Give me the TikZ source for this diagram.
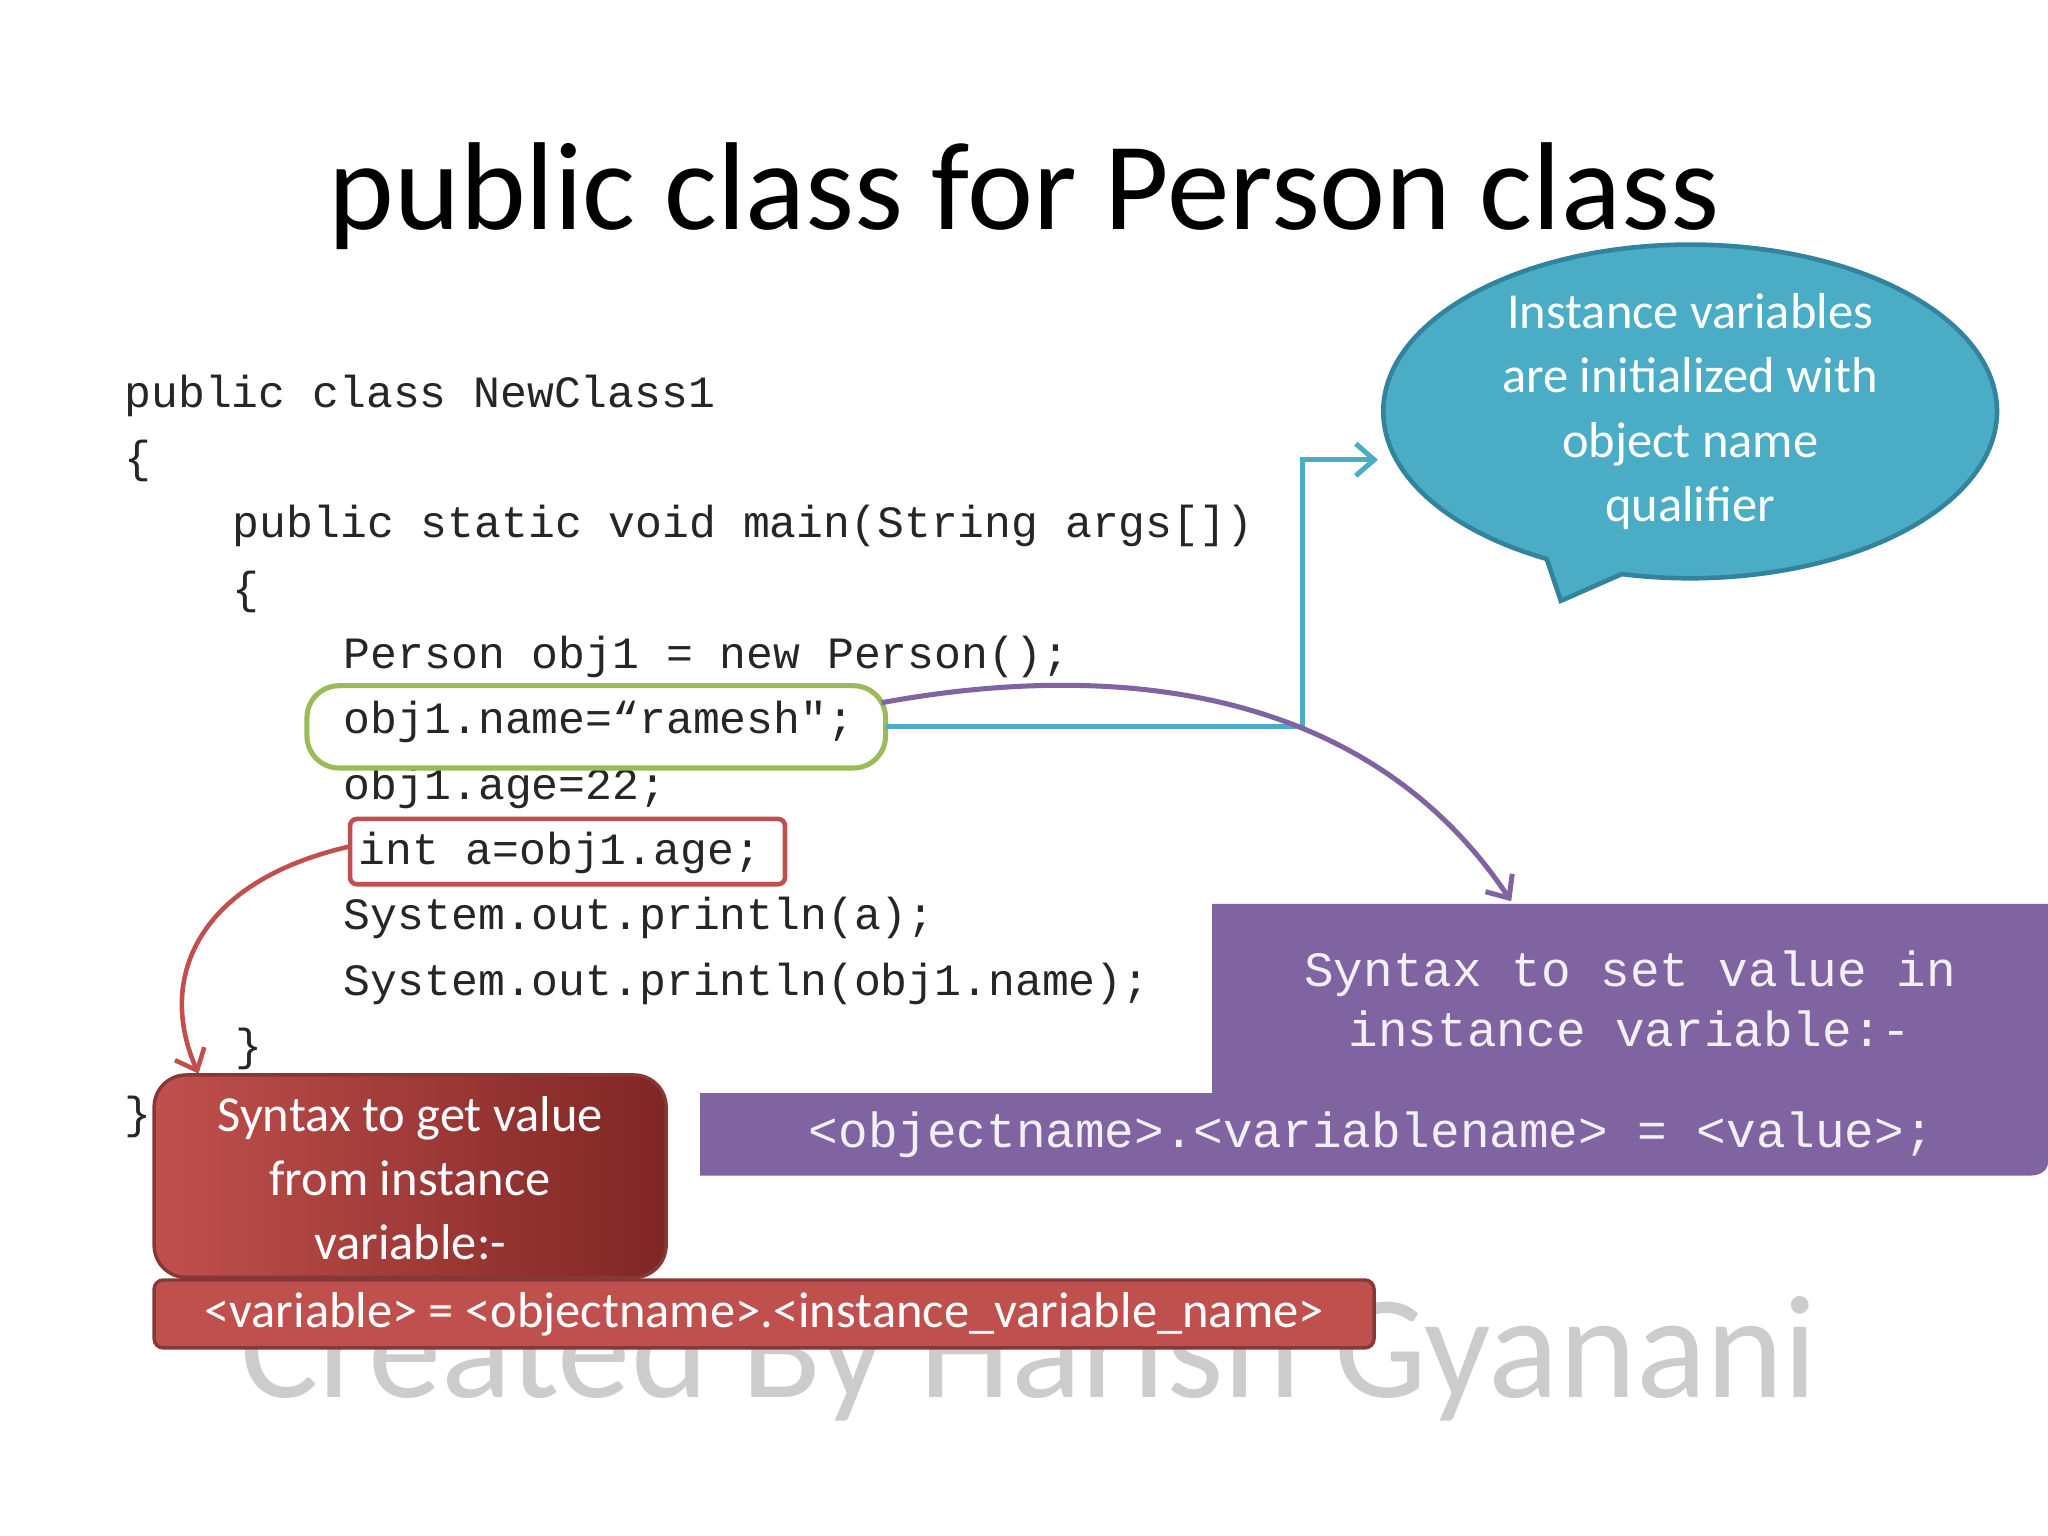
\documentclass[tikz,border=0pt]{standalone}
\usepackage{fontspec}
\setmainfont{Carlito}
\newfontfamily\codefont{Liberation Mono}
\usetikzlibrary{arrows.meta,shapes.callouts}
\definecolor{cblue}{HTML}{4BACC6}
\definecolor{cblued}{HTML}{31849B}
\definecolor{cgreen}{HTML}{9BBB59}
\definecolor{cred}{HTML}{C0504D}
\definecolor{creddk}{HTML}{7F2624}
\definecolor{cpurp}{HTML}{8064A2}
\tikzset{
 code/.style={anchor=west,inner sep=0pt,text=black!85,font=\codefont\fontsize{19.5pt}{22pt}\selectfont},
 ptext/.style={inner sep=0pt,text=white!90!cpurp,font=\codefont\fontsize{21.5pt}{24pt}\selectfont},
 ctext/.style={align=center,text=white,font=\fontsize{22pt}{28pt}\selectfont},
}
\begin{document}
\begin{tikzpicture}[x=0.02cm,y=-0.02cm]
\useasboundingbox (0,0) rectangle (1568,1176);
\fill[white] (0,0) rectangle (1568,1176);
\node[font=\fontsize{54.5pt}{62pt}\selectfont] (title) at (784,150) {public class for Person class};
% watermark
\node[anchor=west,text=black!20,font=\fontsize{64pt}{70pt}\selectfont] (wm) at (178,1040) {Created By Harish Gyanani};
% code
\node[code] (l1) at (95,303) {public class NewClass1};
\node[code] (l2) at (95,353) {\{};
\node[code] (l3) at (178,403) {public static void main(String args[])};
\node[code] (l4) at (178,453) {\{};
\node[code] (l5) at (263,503) {Person obj1 = new Person();};
\node[code] (l6) at (263,553) {obj1.name=“ramesh";};
\node[code] (l7) at (263,603) {obj1.age=22;};
\node[code] (l8) at (274,653) {int a=obj1.age;};
\node[code] (l9) at (263,703) {System.out.println(a);};
\node[code] (l10) at (263,753) {System.out.println(obj1.name);};
\node[code] (l11) at (180,803) {\}};
\node[code] (l12) at (95,855) {\}};
% highlight boxes
\draw[cgreen,line width=2.2pt,rounded corners=14pt] (235,525) rectangle (678,588);
\coordinate (gR) at (678,556);
\coordinate (gRt) at (675,538);
\draw[cred,line width=2pt,rounded corners=3pt] (268,627) rectangle (601,677);
\coordinate (rL) at (268,648);
% callout
\node[ellipse callout,draw=cblued,line width=2pt,fill=cblue,minimum width=9.4cm,minimum height=4.7cm,callout absolute pointer={(1195,460)},ctext,inner sep=0pt] (call) at (1294,315) {Instance variables\\are initialized with\\object name\\qualifier};
% blue connector
\coordinate (bc) at (1055,352);
\draw[cblue,line width=2.2pt,-{Straight Barb[length=8pt,width=14pt]}] (gR) -- (997,556) -- (997,352) -- (bc);
% purple shape
\fill[cpurp] (928,692) -- (1568,692) -- (1568,890) to[out=-90,in=0] (1555,900) -- (536,900) -- (536,837) -- (928,837) -- cycle;
\node[ptext,align=center] (pt1) at (1248,765) {Syntax to set value in\\[2pt]instance variable:-};
\node[ptext] (pt2) at (1050,869) {<objectname>.<variablename> = <value>;};
% purple arc
\coordinate (pa) at (1157,690);
\draw[cpurp,line width=2.2pt,-{Straight Barb[length=8pt,width=14pt]}] (gRt) .. controls (800,515) and (1030,500) .. (pa);
% red curve
\coordinate (rb) at (152,822);
\draw[cred,line width=2pt,-{Straight Barb[length=8pt,width=14pt]}] (rL) .. controls (150,675) and (120,750) .. (rb);
% red box
\shade[left color=cred,right color=creddk,rounded corners=14pt,draw=cred!70!black,line width=1.5pt] (118,823) rectangle (510,978);
\node[ctext] (rt) at (314,902) {Syntax to get value\\from instance\\variable:-};
\fill[cred,draw=cred!70!black,line width=1.5pt,rounded corners=4pt] (118,980) rectangle (1052,1032);
\node[text=white,font=\fontsize{22pt}{26pt}\selectfont] (rt2) at (585,1006) {<variable> = <objectname>.<instance\_variable\_name>};
\end{tikzpicture}
\end{document}
